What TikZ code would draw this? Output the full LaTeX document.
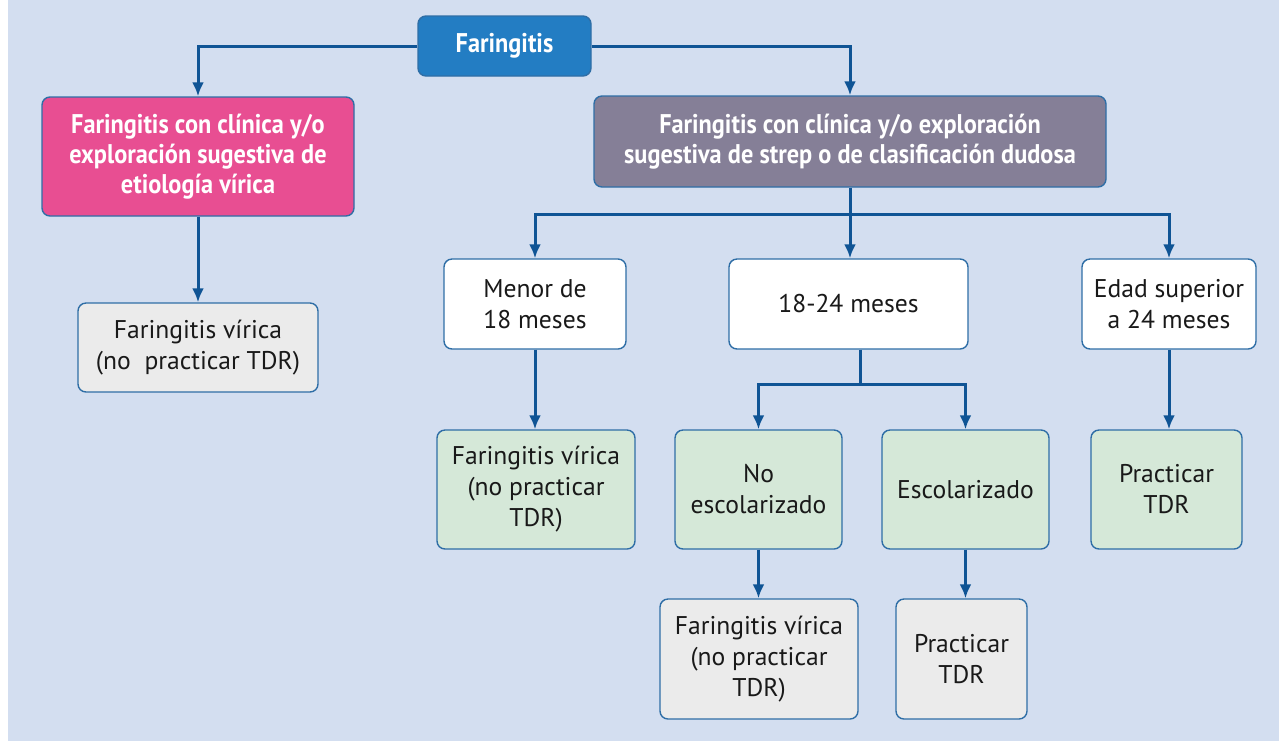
\documentclass[tikz,border=0pt]{standalone}
\usepackage{fontspec}
\setmainfont{PT Sans}[BoldFeatures={FakeStretch=0.9}]
\usetikzlibrary{arrows.meta}

\definecolor{fondo}{HTML}{D3DEF0}
\definecolor{azul}{HTML}{237DC3}
\definecolor{rosa}{HTML}{E84E92}
\definecolor{malva}{HTML}{857F97}
\definecolor{verde}{HTML}{D5E8D8}
\definecolor{gris}{HTML}{EBEBEB}
\definecolor{borde}{HTML}{2F6EA6}
\definecolor{flecha}{HTML}{0F5495}

\tikzset{
  caja/.style={draw=borde, line width=0.7pt, rounded corners=4pt, align=center,
    inner sep=0pt, text=black!90, font=\fontsize{12.8}{15.5}\selectfont},
  titulo/.style={caja, text=white, font=\fontsize{13.5}{15}\selectfont\bfseries},
  linea/.style={draw=flecha, line width=1.5pt},
  flechas/.style={linea, -{Latex[length=7pt,width=6pt]}}
}

\begin{document}
\begin{tikzpicture}[x=0.5pt,y=-0.5pt]
    \useasboundingbox (0,0) rectangle (1279,741);
    \fill[fondo] (8,0) rectangle (1279,741);

    % nivel 1 y 2
    \node[titulo, fill=azul, minimum width=86.5pt, minimum height=30pt] (inicio) at (504.5,46) {Faringitis};
    \node[titulo, fill=rosa, minimum width=156pt, minimum height=59.5pt] (viral) at (198,156.5)
        {Faringitis con clínica y/o\\exploración sugestiva de\\etiología vírica};
    \node[titulo, fill=malva, minimum width=256pt, minimum height=45.5pt] (strep) at (850,141.5)
        {Faringitis con clínica y/o exploración\\sugestiva de strep o de clasificación dudosa};
    \node[caja, fill=gris, minimum width=120pt, minimum height=44.5pt] (viralres) at (198,347.5)
        {Faringitis vírica\\(no~~practicar TDR)};

    % edades
    \node[caja, fill=white, minimum width=91pt, minimum height=45pt] (menor) at (535,304) {Menor de\\18 meses};
    \node[caja, fill=white, minimum width=119.5pt, minimum height=45pt] (medio) at (848.5,304) {18-24 meses};
    \node[caja, fill=white, minimum width=87pt, minimum height=45pt] (mayor) at (1169,304) {Edad superior\\a 24 meses};

    % resultados
    \node[caja, fill=verde, minimum width=99pt, minimum height=59.5pt] (menorres) at (536,489.5)
        {Faringitis vírica\\(no practicar\\TDR)};
    \node[caja, fill=verde, minimum width=83.5pt, minimum height=59.5pt] (noesc) at (758.5,489.5) {No\\escolarizado};
    \node[caja, fill=verde, minimum width=83.5pt, minimum height=59.5pt] (esc) at (965.5,489.5) {Escolarizado};
    \node[caja, fill=verde, minimum width=75.5pt, minimum height=59.5pt] (mayorres) at (1166.5,489.5) {Practicar\\TDR};
    \node[caja, fill=gris, minimum width=99pt, minimum height=60pt] (noescres) at (759,659)
        {Faringitis vírica\\(no practicar\\TDR)};
    \node[caja, fill=gris, minimum width=65.5pt, minimum height=60pt] (escres) at (961.5,659) {Practicar\\TDR};

    % conectores
    \coordinate (rama) at (850,214);
    \coordinate (rama2) at (860,384);
    \draw[flechas] (inicio.west) -| (viral.north);
    \draw[flechas] (inicio.east) -| (strep.north);
    \draw[flechas] (viral.south) -- (viralres.north);
    \draw[linea] (strep.south) -- (rama);
    \draw[flechas] (rama) -| (menor.north);
    \draw[flechas] (rama) -- (rama |- medio.north);
    \draw[flechas] (rama) -| (mayor.north);
    \draw[flechas] (menor.south) -- (menor.south |- menorres.north);
    \draw[linea] (rama2 |- medio.south) -- (rama2);
    \draw[flechas] (rama2) -| (noesc.north);
    \draw[flechas] (rama2) -| (esc.north);
    \draw[flechas] (mayor.south) -- (mayor.south |- mayorres.north);
    \draw[flechas] (noesc.south) -- (noesc.south |- noescres.north);
    \draw[flechas] (esc.south) -- (esc.south |- escres.north);
\end{tikzpicture}
\end{document}
